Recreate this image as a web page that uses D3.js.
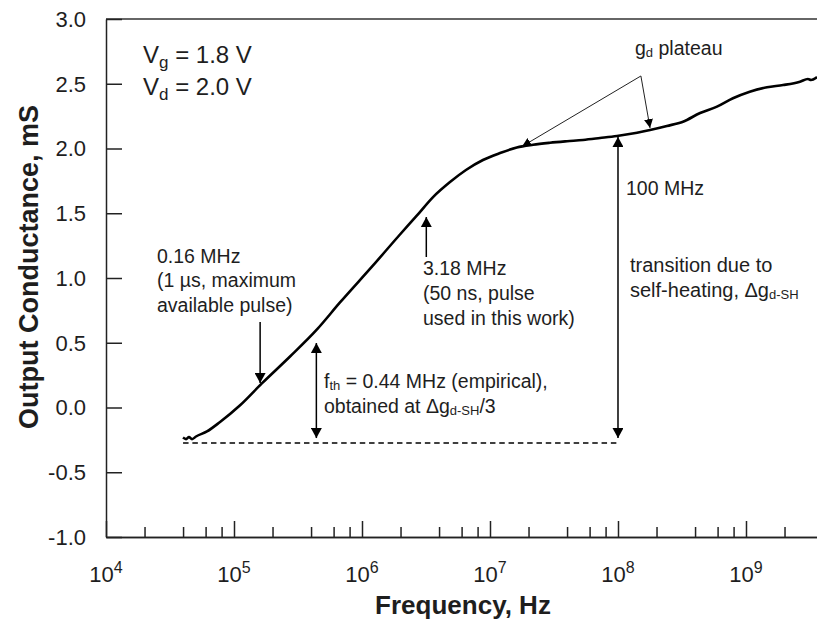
<!DOCTYPE html>
<html>
<head>
<meta charset="utf-8">
<script src="https://cdn.jsdelivr.net/npm/d3@7"></script>
<style>
  html, body { margin: 0; padding: 0; background: #fff; }
  svg { display: block; font-family: "Liberation Sans", Arial, sans-serif; }
  .axis path, .axis line { stroke: #222; stroke-width: 1.5; }
  .axis text { display: none; }
  .lbl { fill: #1e1e1e; }
</style>
</head>
<body>
<svg id="chart" width="817" height="625"></svg>
<script>
// Measured output conductance vs. frequency (Vg = 1.8 V, Vd = 2.0 V)
const freqHz = [
  3.996e4, 4.22e4, 4.45e4, 4.70e4, 5.05e4, 6.15e4, 7.78e4, 1.11e5, 1.65e5,
  2.74e5, 4.45e5, 6.73e5, 1.22e6, 1.98e6, 2.69e6, 3.59e6, 4.87e6, 6.49e6,
  8.81e6, 1.20e7, 1.62e7, 2.17e7, 2.94e7, 4.0e7, 5.33e7, 7.23e7, 9.82e7,
  1.41e8, 1.78e8, 2.41e8, 3.22e8, 4.38e8, 5.93e8, 7.91e8, 1.07e9, 1.46e9,
  1.95e9, 2.64e9, 3.05e9, 3.22e9, 3.59e9
];
const gdMS = [
  -0.232, -0.244, -0.228, -0.244, -0.224, -0.185, -0.112, 0.015, 0.186,
  0.394, 0.603, 0.811, 1.097, 1.336, 1.483, 1.625, 1.741, 1.834,
  1.911, 1.965, 2.008, 2.029, 2.044, 2.056, 2.066, 2.081, 2.097,
  2.122, 2.143, 2.174, 2.207, 2.274, 2.323, 2.388, 2.439, 2.473,
  2.490, 2.516, 2.537, 2.529, 2.552
];

// Axis ticks
const xMajorTicks = [1e4, 1e5, 1e6, 1e7, 1e8, 1e9];
const xTickExponents = ["4", "5", "6", "7", "8", "9"];
const xMinorTicks = [2e4, 4e4, 6e4, 8e4, 2e5, 4e5, 6e5, 8e5, 2e6, 4e6, 6e6, 8e6,
                     2e7, 4e7, 6e7, 8e7, 2e8, 4e8, 6e8, 8e8, 2e9];
const yTicks = [-1.0, -0.5, 0.0, 0.5, 1.0, 1.5, 2.0, 2.5, 3.0];

// Annotation values: [frequency, from, to]
const singleArrows = [
  [1.6e5, 0.66, 0.189],   // 0.16 MHz, pointing down
  [3.18e6, 1.162, 1.471]  // 3.18 MHz, pointing up
];
const doubleArrows = [
  [4.4e5, -0.236, 0.498], // f_th, one third of the transition
  [1e8, -0.236, 2.089]    // full self-heating transition
];
const baseline = { from: 4.0e4, to: 1e8, value: -0.274 };
const plateauApex = [1.51e8, 2.56];
const plateauTargets = [[1.78e7, 2.016], [1.78e8, 2.158]];

const svg = d3.select("#chart");
const x = d3.scaleLog().domain([1e4, 3.6e9]).range([106, 817.2]);
const y = d3.scaleLinear().domain([-1, 3]).range([537, 19]);

const defs = svg.append("defs");
function marker(id, len, wid) {
  defs.append("marker")
    .attr("id", id)
    .attr("viewBox", `0 ${-wid / 2} ${len} ${wid}`)
    .attr("refX", len).attr("refY", 0)
    .attr("markerUnits", "userSpaceOnUse")
    .attr("markerWidth", len).attr("markerHeight", wid)
    .attr("orient", "auto-start-reverse")
    .append("path")
    .attr("d", `M0,${-wid / 2}L${len},0L0,${wid / 2}Z`)
    .attr("fill", "#000");
}
marker("head", 10, 11);
marker("headSmall", 9, 9);

// Top frame line
svg.append("line")
  .attr("x1", x.range()[0]).attr("x2", 817)
  .attr("y1", y(3)).attr("y2", y(3))
  .attr("stroke", "#333").attr("stroke-width", 1.5);

// Axes with inward ticks
svg.append("g").attr("class", "axis")
  .attr("transform", `translate(0,${y(-1)})`)
  .call(d3.axisBottom(x).tickValues(xMinorTicks).tickSizeInner(-10).tickSizeOuter(0).tickFormat(""));
svg.append("g").attr("class", "axis")
  .attr("transform", `translate(0,${y(-1)})`)
  .call(d3.axisBottom(x).tickValues(xMajorTicks).tickSizeInner(-16).tickSizeOuter(0).tickFormat(""));
svg.append("g").attr("class", "axis")
  .attr("transform", `translate(${x.range()[0]},0)`)
  .call(d3.axisLeft(y).tickValues(yTicks).tickSizeInner(-16).tickSizeOuter(0).tickFormat(""));

// Y tick labels
svg.append("g").selectAll("text").data(yTicks).join("text")
  .attr("class", "lbl")
  .attr("x", 86).attr("y", d => y(d)).attr("dy", "0.36em")
  .attr("text-anchor", "end")
  .attr("font-size", 22)
  .text(d => d.toFixed(1));

// X tick labels: powers of ten
const xl = svg.append("g").selectAll("text").data(xMajorTicks).join("text")
  .attr("class", "lbl")
  .attr("x", d => x(d)).attr("y", 582)
  .attr("text-anchor", "middle")
  .attr("font-size", 22);
xl.append("tspan").text("10");
xl.append("tspan").attr("font-size", 16).attr("dy", -9).text((d, i) => xTickExponents[i]);

// Axis titles
svg.append("text").attr("class", "lbl")
  .attr("x", 463).attr("y", 614)
  .attr("text-anchor", "middle").attr("font-weight", "bold").attr("font-size", 26)
  .text("Frequency, Hz");
svg.append("text").attr("class", "lbl")
  .attr("transform", "translate(37.5,267) rotate(-90)")
  .attr("text-anchor", "middle").attr("font-weight", "bold").attr("font-size", 27)
  .text("Output Conductance, mS");

// Dashed reference level
svg.append("line")
  .attr("x1", x(baseline.from)).attr("x2", x(baseline.to))
  .attr("y1", y(baseline.value)).attr("y2", y(baseline.value))
  .attr("stroke", "#000").attr("stroke-width", 1.3)
  .attr("stroke-dasharray", "5.5,3.8");

// Measured curve
const line = d3.line().x((d, i) => x(freqHz[i])).y(d => y(d)).curve(d3.curveMonotoneX);
svg.append("path")
  .attr("d", line(gdMS))
  .attr("fill", "none").attr("stroke", "#000").attr("stroke-width", 2.6)
  .attr("stroke-linejoin", "round");

// Annotation arrows
svg.append("g").selectAll("line").data(singleArrows).join("line")
  .attr("x1", d => x(d[0])).attr("x2", d => x(d[0]))
  .attr("y1", d => y(d[1])).attr("y2", d => y(d[2]))
  .attr("stroke", "#000").attr("stroke-width", 1.5)
  .attr("marker-end", "url(#head)");
svg.append("g").selectAll("line").data(doubleArrows).join("line")
  .attr("x1", d => x(d[0])).attr("x2", d => x(d[0]))
  .attr("y1", d => y(d[1])).attr("y2", d => y(d[2]))
  .attr("stroke", "#000").attr("stroke-width", 1.5)
  .attr("marker-start", "url(#head)").attr("marker-end", "url(#head)");
svg.append("g").selectAll("line").data(plateauTargets).join("line")
  .attr("x1", x(plateauApex[0])).attr("y1", y(plateauApex[1]))
  .attr("x2", d => x(d[0])).attr("y2", d => y(d[1]))
  .attr("stroke", "#222").attr("stroke-width", 1)
  .attr("marker-end", "url(#headSmall)");

// Text annotations
function label(xp, yp, size, parts) {
  const t = svg.append("text").attr("class", "lbl")
    .attr("x", xp).attr("y", yp).attr("font-size", size);
  parts.forEach(p => {
    if (typeof p === "string") {
      t.append("tspan").text(p);
    } else {
      t.append("tspan").attr("font-size", p.size).attr("dy", p.dy).text(p.t);
    }
  });
  return t;
}
label(143, 63, 24, ["V", { t: "g", size: 17, dy: 5 }, { t: " = 1.8 V", size: 24, dy: -5 }]);
label(143, 95, 24, ["V", { t: "d", size: 17, dy: 5 }, { t: " = 2.0 V", size: 24, dy: -5 }]);
label(635, 55, 19.5, ["g", { t: "d", size: 13, dy: 2 }, { t: " plateau", size: 19.5, dy: -2 }]);
label(626, 195, 19.5, ["100 MHz"]);
label(157, 263, 19.5, ["0.16 MHz"]);
label(157, 287, 19.5, ["(1 µs, maximum"]);
label(157, 312, 19.5, ["available pulse)"]);
label(423, 275, 19.5, ["3.18 MHz"]);
label(423, 300, 19.5, ["(50 ns, pulse"]);
label(423, 325, 19.5, ["used in this work)"]);
label(630, 272, 20, ["transition due to"]);
label(630, 297, 20, ["self-heating, Δg", { t: "d-SH", size: 13, dy: 2 }]);
label(324, 388, 19.5, ["f", { t: "th", size: 13, dy: 2 }, { t: " = 0.44 MHz (empirical),", size: 19.5, dy: -2 }]);
label(324, 413, 19.5, ["obtained at Δg", { t: "d-SH", size: 13, dy: 2 }, { t: "/3", size: 19.5, dy: -2 }]);
</script>
</body>
</html>
